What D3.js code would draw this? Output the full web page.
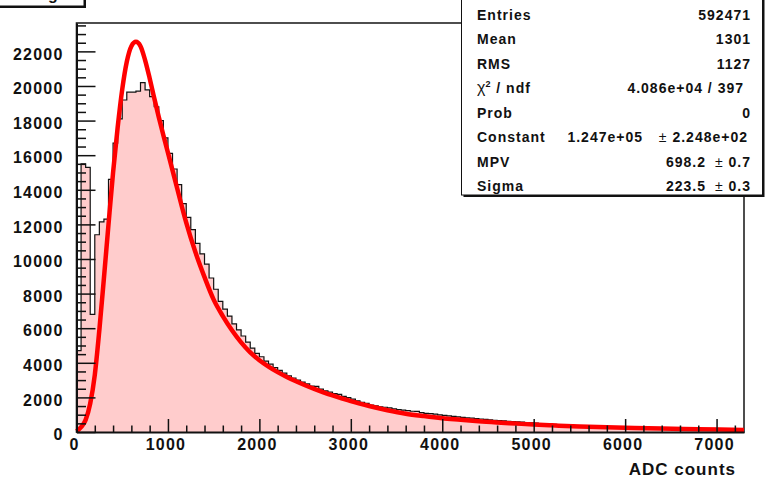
<!DOCTYPE html>
<html>
<head>
<meta charset="utf-8">
<script src="https://cdn.jsdelivr.net/npm/d3@7"></script>
<style>
body { margin: 0; background: #fff; }
svg { display: block; font-family: "Liberation Sans", Arial, Helvetica, sans-serif; font-weight: bold; }
</style>
</head>
<body>
<div id="canvas"></div>
<script>
"use strict"

// DATA

let binWidth = 50;
let histCounts = [
    4700, 15500, 15300, 6800, 11400, 12150, 12300, 14600, 16700, 18100,
    19190, 19640, 19640, 19700, 20190, 19770, 19380, 18800, 18000, 17000,
    16100, 15200, 14300, 13200, 12400, 11700, 10900, 10300, 9700, 8900,
    8250, 7550, 7100, 6700, 6250, 5900, 5550, 5200, 4850, 4550,
    4350, 4100, 3920, 3720, 3560, 3400, 3250, 3120, 3000, 2880,
    2780, 2660, 2640, 2480, 2380, 2300, 2220, 2180, 2060, 1990,
    1900, 1800, 1720, 1650, 1560, 1510, 1450, 1430, 1390, 1340,
    1300, 1260, 1230, 1200, 1190, 1120, 1080, 1060, 1030, 990,
    960, 930, 900, 880, 850, 820, 800, 770, 750, 730,
    700, 680, 660, 640, 620, 600, 590, 570, 550, 530,
    510, 490, 470, 460, 440, 430, 410, 400, 390, 370,
    360, 350, 340, 330, 320, 305, 300, 290, 280, 270,
    260, 250, 245, 240, 230, 225, 220, 212, 205, 200,
    195, 190, 185, 180, 175, 170, 165, 160, 155, 150,
    145, 140, 138, 132, 128, 124
];

// Landau fit curve, sampled from the drawn red line
let fitAdc = [0, 50, 100, 150, 200, 250, 300, 350, 400, 450, 500, 550, 600, 650, 700, 750,
    800, 850, 900, 950, 1000, 1100, 1200, 1300, 1400, 1500, 1600, 1700, 1800, 1900, 2000,
    2100, 2200, 2300, 2400, 2500, 2600, 2700, 2800, 2900, 3000, 3200, 3400, 3600, 3800,
    4000, 4200, 4400, 4600, 4800, 5000, 5200, 5500, 5800, 6100, 6400, 6800, 7300];
let fitCounts = [40, 280, 700, 1650, 3300, 5900, 8900, 12000, 15000, 17600, 19800, 21400, 22300, 22550, 22300, 21500,
    20450, 19300, 18200, 17150, 16150, 14100, 12100, 10400, 8950, 7650, 6700, 5880, 5180, 4600, 4150,
    3780, 3460, 3180, 2930, 2700, 2490, 2295, 2115, 1945, 1780, 1500, 1260, 1060, 920,
    800, 710, 620, 550, 490, 430, 385, 320, 270, 230, 200, 165, 120];

let xTicks = [0, 1000, 2000, 3000, 4000, 5000, 6000, 7000];
let yTicks = [0, 2000, 4000, 6000, 8000, 10000, 12000, 14000, 16000, 18000, 20000, 22000];

let statLabels = ["Entries", "Mean", "RMS", "chi2", "Prob", "Constant", "MPV", "Sigma"];
let statValues = ["592471", "1301", "1127", "4.086e+04 / 397", "0", "1.247e+05", "698.2", "223.5"];
let statErrors = ["", "", "", "", "", "2.248e+02", "0.7", "0.3"];


// CONFIGURATION

let svgWidth = 768;
let svgHeight = 480;
let frameLeft = 76.5;
let frameRight = 744;
let frameTop = 23;
let frameBottom = 432;


// CREATE SVG

let svg = d3.select("#canvas")
    .append("svg")
    .attr("width", svgWidth)
    .attr("height", svgHeight);


// SCALES

let xScale = d3.scaleLinear()
    .domain([0, 7300])
    .range([frameLeft, frameRight]);

let yScale = d3.scaleLinear()
    .domain([0, 23640])
    .range([frameBottom, frameTop]);


// FRAME

svg.append("rect")
    .attr("x", frameLeft)
    .attr("y", frameTop)
    .attr("width", frameRight - frameLeft)
    .attr("height", frameBottom - frameTop)
    .attr("fill", "none")
    .attr("stroke", "#222")
    .attr("stroke-width", 1.6);


// HISTOGRAM

let bins = histCounts.map(function(c, i) { return { lo: i * binWidth, count: c }; });
bins.push({ lo: bins.length * binWidth, count: histCounts[histCounts.length - 1] });

svg.append("path")
    .datum(bins)
    .attr("fill", "#ffcccc")
    .attr("d", d3.area()
        .curve(d3.curveStepAfter)
        .x(function(d) { return xScale(d.lo); })
        .y0(yScale(0))
        .y1(function(d) { return yScale(d.count); }));

svg.append("path")
    .datum(bins)
    .attr("fill", "none")
    .attr("stroke", "#111")
    .attr("stroke-width", 1.2)
    .attr("d", d3.line()
        .curve(d3.curveStepAfter)
        .x(function(d) { return xScale(d.lo); })
        .y(function(d) { return yScale(d.count); }));


// FIT CURVE

svg.append("path")
    .datum(d3.zip(fitAdc, fitCounts))
    .attr("fill", "none")
    .attr("stroke", "#ff0000")
    .attr("stroke-width", 4.5)
    .attr("stroke-linejoin", "round")
    .attr("d", d3.line()
        .curve(d3.curveMonotoneX)
        .x(function(d) { return xScale(d[0]); })
        .y(function(d) { return yScale(d[1]); }));


// AXES

let xMinor = d3.range(0, 7301, 200).filter(function(v) { return v % 1000 !== 0; });
let yMinor = d3.range(0, 23640, 500).filter(function(v) { return v % 2000 !== 0; });

let xAxis = svg.append("g")
    .attr("transform", "translate(0," + frameBottom + ")")
    .call(d3.axisBottom(xScale).tickValues(xTicks).tickSizeInner(-13).tickSizeOuter(0)
        .tickPadding(7).tickFormat(d3.format("d")));

svg.append("g")
    .attr("transform", "translate(0," + frameBottom + ")")
    .call(d3.axisBottom(xScale).tickValues(xMinor).tickSizeInner(-6.5).tickSizeOuter(0).tickFormat(""))
    .select(".domain").remove();

let yAxis = svg.append("g")
    .attr("transform", "translate(" + frameLeft + ",0)")
    .call(d3.axisLeft(yScale).tickValues(yTicks).tickSizeInner(-19).tickSizeOuter(0)
        .tickPadding(13).tickFormat(d3.format("d")));

svg.append("g")
    .attr("transform", "translate(" + frameLeft + ",0)")
    .call(d3.axisLeft(yScale).tickValues(yMinor).tickSizeInner(-9.5).tickSizeOuter(0).tickFormat(""))
    .select(".domain").remove();

svg.selectAll(".tick line")
    .attr("stroke", "#111")
    .attr("stroke-width", 1.5);

xAxis.select(".domain").attr("stroke", "#111").attr("stroke-width", 2);
yAxis.select(".domain").attr("stroke", "#111").attr("stroke-width", 2);

svg.selectAll(".tick text")
    .attr("fill", "#111")
    .style("font-size", "16px")
    .style("font-weight", "bold")
    .style("letter-spacing", "1.2px")
    .style("font-family", "'Liberation Sans', Arial, sans-serif");

xAxis.selectAll(".tick text").attr("dx", -2.5);
yAxis.selectAll(".tick text").attr("dy", "0.48em");


// AXIS TITLE

svg.append("text")
    .attr("x", 736)
    .attr("y", 475)
    .attr("text-anchor", "end")
    .style("font-size", "17px")
    .style("letter-spacing", "1px")
    .attr("fill", "#111")
    .text("ADC counts");


// TITLE BOX (cut off at the top)

svg.append("rect")
    .attr("x", -1).attr("y", -20).attr("width", 87).attr("height", 28)
    .attr("fill", "#111");

svg.append("rect")
    .attr("x", -3).attr("y", -22).attr("width", 87).attr("height", 28)
    .attr("fill", "#fff").attr("stroke", "#111").attr("stroke-width", 1);

svg.append("text")
    .attr("x", 48)
    .attr("y", -0.5)
    .style("font-size", "16px")
    .attr("fill", "#111")
    .text("g");


// STATS BOX

let boxX = 461.5;
let boxW = 301;

svg.append("rect")
    .attr("x", boxX + 2).attr("y", 0).attr("width", boxW).attr("height", 197)
    .attr("fill", "#111");

svg.append("rect")
    .attr("x", boxX).attr("y", -2).attr("width", boxW).attr("height", 197)
    .attr("fill", "#fff").attr("stroke", "#111").attr("stroke-width", 1);

let rowY = function(i) { return 19.5 + i * 24.5; };

statLabels.forEach(function(label, i) {
    let t = svg.append("text")
        .attr("x", 477)
        .attr("y", rowY(i))
        .attr("fill", "#111")
        .style("font-size", "14px")
        .style("letter-spacing", "1px");
    if (label === "chi2") {
        t.append("tspan").style("font-weight", "normal").style("font-size", "16px").style("letter-spacing", "0px").text("χ");
        t.append("tspan").attr("dy", -6).style("font-size", "9px").text("2");
        t.append("tspan").attr("dy", 6).text(" / ndf");
    } else {
        t.text(label);
    }
});

statValues.forEach(function(v, i) {
    let err = statErrors[i];
    let xv = 751;
    if (i === 3) xv = 744;
    if (i === 5) xv = 643;
    if (i === 6 || i === 7) xv = 706;
    svg.append("text")
        .attr("x", xv)
        .attr("y", rowY(i))
        .attr("text-anchor", "end")
        .attr("fill", "#111")
        .style("font-size", "14px")
        .style("letter-spacing", "1px")
        .text(v);
    if (err !== "") {
        let e = svg.append("text")
            .attr("x", i === 5 ? 748 : 751)
            .attr("y", rowY(i))
            .attr("text-anchor", "end")
            .attr("fill", "#111")
            .style("font-size", "14px")
            .style("letter-spacing", "1px");
        e.append("tspan").style("font-weight", "normal").text("± ");
        e.append("tspan").text(err);
    }
});
</script>
</body>
</html>
